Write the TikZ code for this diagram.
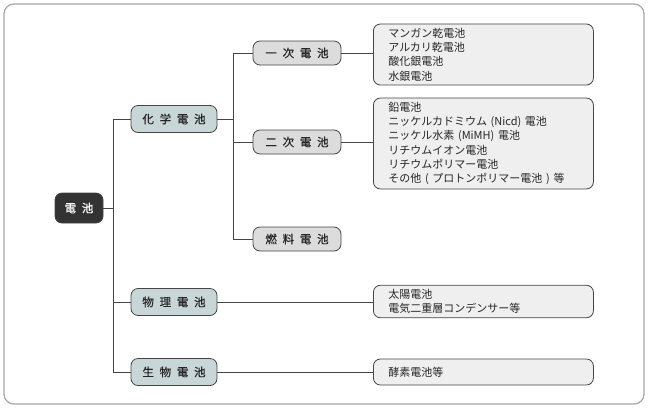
\documentclass[tikz,border=0pt]{standalone}
\usepackage{fontspec}
\setmainfont{Noto Sans CJK JP}
\newfontfamily\labelfont{Noto Sans CJK JP}[FakeBold=0.5]
\usetikzlibrary{positioning}

\definecolor{rootfill}{HTML}{333333}
\definecolor{catfill}{HTML}{C8D6D8}
\definecolor{subfill}{HTML}{DCDCDC}
\definecolor{itemfill}{HTML}{EFEFEF}
\definecolor{edgegray}{HTML}{444444}
\definecolor{framegray}{HTML}{A8A8A8}

\begin{document}
\begin{tikzpicture}[x=1pt, y=-1pt,
    box/.style={draw=edgegray, line width=0.8pt, rounded corners=7pt, font=\labelfont\fontsize{11.5}{14}\selectfont, text=black!85},
    root/.style={box, fill=rootfill, text=white, minimum width=48pt, minimum height=30pt},
    cat/.style={box, fill=catfill, minimum width=86pt, minimum height=27pt},
    sub/.style={box, fill=subfill, minimum width=88pt, minimum height=24pt},
    item/.style={box, fill=itemfill, anchor=west, text width=190pt, inner xsep=15pt, inner ysep=4pt, align=left, minimum height=26pt, font=\rmfamily\fontsize{11}{14.3}\selectfont},
    line/.style={draw=edgegray, line width=0.8pt}]
    \useasboundingbox (0,0) rectangle (650,408);

    % 外枠
    \draw[framegray, line width=1.3pt, rounded corners=10pt] (4,4) rectangle (644,404);

    % 根の描画
    \node[root] (denchi) at (79,208) {電\enspace 池};

    % 分類の描画
    \foreach \name/\y/\label in {kagaku/119/化\enspace 学\enspace 電\enspace 池, butsuri/302/物\enspace 理\enspace 電\enspace 池, seibutsu/372/生\enspace 物\enspace 電\enspace 池}
        \node[cat] (\name) at (174,\y) {\label};
    \foreach \name/\y/\label in {ichiji/53/一\enspace 次\enspace 電\enspace 池, niji/142/二\enspace 次\enspace 電\enspace 池, nenryo/239/燃\enspace 料\enspace 電\enspace 池}
        \node[sub] (\name) at (297,\y) {\label};

    % 具体例の描画
    \node[item] (ichijirei) at (373,54.5) {マンガン乾電池\\アルカリ乾電池\\酸化銀電池\\水銀電池};
    \node[item] (nijirei) at (373,143.5) {鉛電池\\ニッケルカドミウム (Nicd) 電池\\ニッケル水素 (MiMH) 電池\\リチウムイオン電池\\リチウムポリマー電池\\その他 ( プロトンポリマー電池 ) 等};
    \node[item] (butsurirei) at (373,301.5) {太陽電池\\電気二重層コンデンサー等};
    \node[item] (seibutsurei) at (373,372) {酵素電池等};

    % 線の描画
    \foreach \name in {kagaku, butsuri, seibutsu}
        \draw[line] (denchi.east) -- ++(10,0) |- (\name.west);
    \foreach \name in {ichiji, niji, nenryo}
        \draw[line] (kagaku.east) -- ++(16,0) |- (\name.west);
    \foreach \from/\to in {ichiji/ichijirei, niji/nijirei, butsuri/butsurirei, seibutsu/seibutsurei}
        \draw[line] (\from.east) -- (\from.east -| \to.west);

\end{tikzpicture}
\end{document}
